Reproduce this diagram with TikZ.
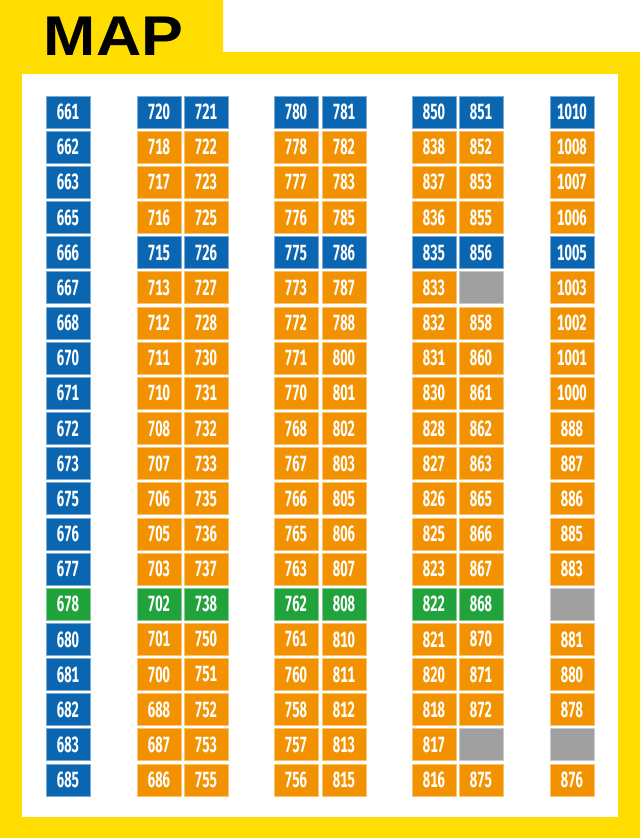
\documentclass[tikz,border=0pt]{standalone}
\usepackage{fontspec}
\newfontfamily\numfont[Numbers={Lining,Monospaced}]{Fira Sans}
\newfontfamily\titlefont{Liberation Sans}
\definecolor{mapyellow}{HTML}{FFDD00}
\definecolor{cB}{HTML}{0B66B2}
\definecolor{cO}{HTML}{F39200}
\definecolor{cG}{HTML}{1FA33A}
\definecolor{cX}{HTML}{A0A0A0}
\tikzset{
  cell/.style={rectangle, minimum width=44pt, minimum height=32pt, inner sep=0pt,
    fill=#1, draw=#1!55!white, line width=0.8pt, text=white,
    font=\numfont\bfseries\fontsize{22}{22}\selectfont},
  title/.style={anchor=base, inner sep=0pt, font=\titlefont\bfseries\fontsize{56}{56}\selectfont}
}
\newcommand{\cnum}[1]{\raisebox{0.3pt}{\scalebox{0.6}[1]{#1}}}
\newcommand{\mapcol}[3]{%
  \foreach \t/\c [count=\i from 0] in {#3} {
    \node[cell=\c] (cell-#1-\i) at (#2, 112+35.16*\i) {\cnum{\t}};
  }%
}
\begin{document}
\begin{tikzpicture}[x=1pt,y=-1pt]
\useasboundingbox (0,0) rectangle (640,838);
\fill[mapyellow] (0,0) -- (223,0) -- (223,52) -- (640,52) -- (640,838) -- (0,838) -- cycle;
\fill[white] (22,74) rectangle (618,817);
\node[title] (maptitle) at (113.5,55) {\scalebox{1.12}[1]{MAP}};
\mapcol{A}{68}{661/cB,662/cB,663/cB,665/cB,666/cB,667/cB,668/cB,670/cB,671/cB,672/cB,673/cB,675/cB,676/cB,677/cB,678/cG,680/cB,681/cB,682/cB,683/cB,685/cB}
\mapcol{B}{159}{720/cB,718/cO,717/cO,716/cO,715/cB,713/cO,712/cO,711/cO,710/cO,708/cO,707/cO,706/cO,705/cO,703/cO,702/cG,701/cO,700/cO,688/cO,687/cO,686/cO}
\mapcol{C}{206}{721/cB,722/cO,723/cO,725/cO,726/cB,727/cO,728/cO,730/cO,731/cO,732/cO,733/cO,735/cO,736/cO,737/cO,738/cG,750/cO,751/cO,752/cO,753/cO,755/cO}
\mapcol{D}{296}{780/cB,778/cO,777/cO,776/cO,775/cB,773/cO,772/cO,771/cO,770/cO,768/cO,767/cO,766/cO,765/cO,763/cO,762/cG,761/cO,760/cO,758/cO,757/cO,756/cO}
\mapcol{E}{344}{781/cB,782/cO,783/cO,785/cO,786/cB,787/cO,788/cO,800/cO,801/cO,802/cO,803/cO,805/cO,806/cO,807/cO,808/cG,810/cO,811/cO,812/cO,813/cO,815/cO}
\mapcol{F}{434}{850/cB,838/cO,837/cO,836/cO,835/cB,833/cO,832/cO,831/cO,830/cO,828/cO,827/cO,826/cO,825/cO,823/cO,822/cG,821/cO,820/cO,818/cO,817/cO,816/cO}
\mapcol{G}{481}{851/cB,852/cO,853/cO,855/cO,856/cB,{}/cX,858/cO,860/cO,861/cO,862/cO,863/cO,865/cO,866/cO,867/cO,868/cG,870/cO,871/cO,872/cO,{}/cX,875/cO}
\mapcol{H}{572}{1010/cB,1008/cO,1007/cO,1006/cO,1005/cB,1003/cO,1002/cO,1001/cO,1000/cO,888/cO,887/cO,886/cO,885/cO,883/cO,{}/cX,881/cO,880/cO,878/cO,{}/cX,876/cO}
\end{tikzpicture}
\end{document}
